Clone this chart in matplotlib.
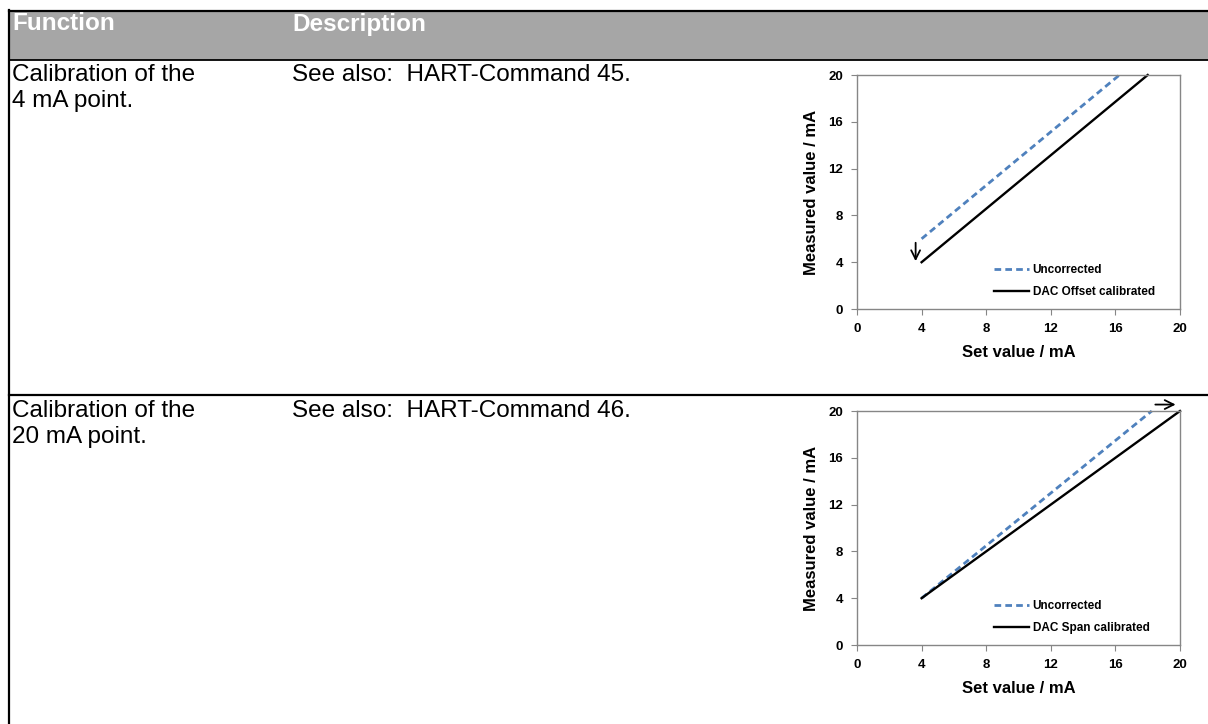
import numpy as np
import matplotlib
matplotlib.use("Agg")
import matplotlib.pyplot as plt
from matplotlib.patches import Rectangle

plt.rcParams['font.family'] = ['Liberation Sans', 'DejaVu Sans']

# table text
header = ["Function", "Description"]
row_func = ["Calibration of the\n4 mA point.", "Calibration of the\n20 mA point."]
row_desc = ["See also:  HART-Command 45.", "See also:  HART-Command 46."]

# chart data (set value -> measured value, mA)
ticks = [0, 4, 8, 12, 16, 20]

x_unc1 = [4, 16.25]
y_unc1 = [6, 20]
x_cal1 = [4, 18]
y_cal1 = [4, 20]
label_cal1 = "DAC Offset calibrated"

x_unc2 = [4, 18.25]
y_unc2 = [4, 20]
x_cal2 = [4, 20]
y_cal2 = [4, 20]
label_cal2 = "DAC Span calibrated"

fig = plt.figure(figsize=(12.08, 7.24), dpi=100)

# table drawn in pixel coordinates
tab = fig.add_axes([0, 0, 1, 1])
tab.set_xlim(0, 1208)
tab.set_ylim(724, 0)
tab.axis('off')

tab.add_patch(Rectangle((9, 11), 1199, 49, facecolor='#a6a6a6', edgecolor='none'))
tab.plot([9, 1208], [11, 11], color='black', lw=1.6)
tab.plot([9, 1208], [60, 60], color='black', lw=1.3)
tab.plot([9, 1208], [395, 395], color='black', lw=1.6)
tab.plot([9, 9], [10, 724], color='black', lw=1.6)

tab.text(12, 24, header[0], color='white', fontsize=17.5, fontweight='bold', va='center')
tab.text(292, 24, header[1], color='white', fontsize=17.5, fontweight='bold', va='center')

row_top = [64, 400]
for i in range(2):
    tab.text(12, row_top[i], row_func[i], fontsize=17.5, va='top', linespacing=1.22)
    tab.text(292, row_top[i], row_desc[i], fontsize=17.5, va='top')


def make_chart(rect, xu, yu, xc, yc, lab):
    ax = fig.add_axes(rect)
    ax.plot(xu, yu, color='#4f81bd', lw=2.0, ls=(0, (2.4, 1.5)), label='Uncorrected',
            clip_on=False)
    ax.plot(xc, yc, color='black', lw=1.7, label=lab, clip_on=False)
    ax.set_xlim(0, 20)
    ax.set_ylim(0, 20)
    ax.set_xticks(ticks)
    ax.set_yticks(ticks)
    for s in ax.spines.values():
        s.set_color('#868686')
        s.set_linewidth(1.0)
    ax.tick_params(direction='out', length=4, color='#868686', labelsize=9.5, pad=6)
    for t in ax.get_xticklabels() + ax.get_yticklabels():
        t.set_fontweight('bold')
    ax.set_xlabel("Set value / mA", fontsize=12, fontweight='bold', labelpad=7)
    ax.set_ylabel("Measured value / mA", fontsize=12, fontweight='bold', labelpad=7)
    ax.legend(loc='lower left', bbox_to_anchor=(0.39, 0.0), frameon=False,
              handlelength=3.0, handletextpad=0.3, labelspacing=0.85,
              prop={'size': 8.5, 'weight': 'bold'})
    return ax


arrow = dict(arrowstyle='->', color='black', lw=1.3, mutation_scale=16)

ax1 = make_chart([857 / 1208, 1 - 309 / 724, 323 / 1208, 234 / 724],
                 x_unc1, y_unc1, x_cal1, y_cal1, label_cal1)
ax1.annotate('', xy=(3.63, 3.85), xytext=(3.63, 5.9), arrowprops=arrow)

ax2 = make_chart([857 / 1208, 1 - 645 / 724, 323 / 1208, 234 / 724],
                 x_unc2, y_unc2, x_cal2, y_cal2, label_cal2)
ax2.annotate('', xy=(19.9, 20.55), xytext=(18.3, 20.55), annotation_clip=False,
             arrowprops=arrow)

fig.savefig("out.png", dpi=100)
